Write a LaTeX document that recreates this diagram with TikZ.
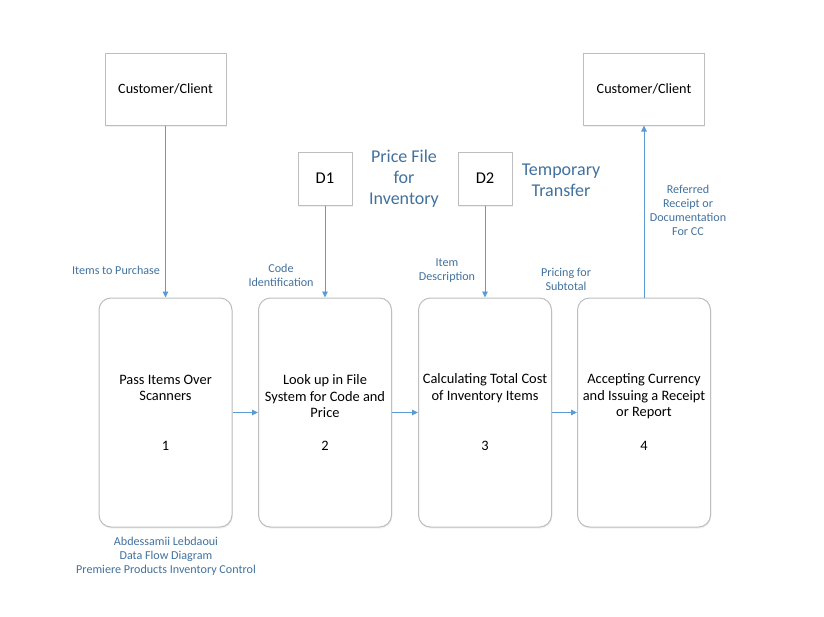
\documentclass[tikz,border=0pt]{standalone}
\usepackage{fontspec}
\setmainfont{Carlito}
\usetikzlibrary{arrows.meta,shadows}

\definecolor{flowblue}{RGB}{91,155,213}
\definecolor{labelblue}{RGB}{65,113,156}
\definecolor{boxgray}{RGB}{190,190,190}

\tikzset{
  boxbase/.style={draw=boxgray, line width=1pt, fill=white, inner sep=0pt,
    drop shadow={opacity=0.12, shadow xshift=0.8pt, shadow yshift=-1.6pt}},
  entity/.style={boxbase, minimum width=121pt, minimum height=72pt,
    font=\fontsize{14.2}{17}\selectfont},
  store/.style={boxbase, minimum width=54pt, minimum height=53pt,
    font=\fontsize{16.5}{20}\selectfont},
  process/.style={boxbase, rounded corners=12pt, minimum width=133pt, minimum height=229pt},
  proctext/.style={align=center, font=\fontsize{14.4}{16.5}\selectfont},
  flow/.style={draw=flowblue, line width=0.9pt, -{Triangle[length=6pt,width=5.5pt]}},
  flowlabel/.style={text=labelblue, align=center, font=\fontsize{12.1}{14.2}\selectfont},
  storelabel/.style={text=labelblue, align=center, font=\fontsize{18}{21}\selectfont}
}

\begin{document}
\begin{tikzpicture}[x=1pt, y=-1pt]
		%%%%% START %%%%%
		\useasboundingbox (0, 0) rectangle (824, 616);
		
		% external entities and data stores
		\node[entity] (cust1) at (165.5, 89) {Customer/Client};
		\node[entity] (cust2) at (644, 89) {Customer/Client};
		\node[store] (d1) at (325, 178.5) {D1};
		\node[store] (d2) at (485, 178.5) {D2};
		
		\node[storelabel] (d1name) at (404, 179) {Price File\\for\\Inventory};
		\node[storelabel] (d2name) at (561, 180) {Temporary\\Transfer};
		
		% processes
		\node[process] (p1) at (165.5, 412.5) {};
		\node[process] (p2) at (325, 412.5) {};
		\node[process] (p3) at (485, 412.5) {};
		\node[process] (p4) at (644, 412.5) {};
		
		\node[proctext] (p1name) at (165.5, 388) {Pass Items Over\\Scanners};
		\node[proctext] (p2name) at (325, 396.5) {Look up in File\\System for Code and\\Price};
		\node[proctext] (p3name) at (485, 388) {Calculating Total Cost\\of Inventory Items};
		\node[proctext] (p4name) at (644, 396.5) {Accepting Currency\\and Issuing a Receipt\\or Report};
		
		\node[proctext] (p1num) at (165.5, 446) {1};
		\node[proctext] (p2num) at (325, 446) {2};
		\node[proctext] (p3num) at (485, 446) {3};
		\node[proctext] (p4num) at (644, 446) {4};
		
		% flows
		\draw[flow] (cust1) -- (p1);
		\draw[flow] (d1) -- (p2);
		\draw[flow] (d2) -- (p3);
		\draw[flow] (p4) -- (cust2);
		\draw[flow] (p1) -- (p2);
		\draw[flow] (p2) -- (p3);
		\draw[flow] (p3) -- (p4);
		
		\node[flowlabel] (f1) at (116, 270) {Items to Purchase};
		\node[flowlabel] (f2) at (281, 275) {Code\\Identification};
		\node[flowlabel] (f3) at (447, 270.5) {Item\\Description};
		\node[flowlabel] (f4) at (566, 279) {Pricing for\\Subtotal};
		\node[flowlabel] (f5) at (688, 210.5) {Referred\\Receipt or\\Documentation\\For CC};
		
		\node[flowlabel] (footer) at (166, 556.5) {Abdessamii Lebdaoui\\Data Flow Diagram\\Premiere Products Inventory Control};
		%%%%% END %%%%%
\end{tikzpicture}
\end{document}
